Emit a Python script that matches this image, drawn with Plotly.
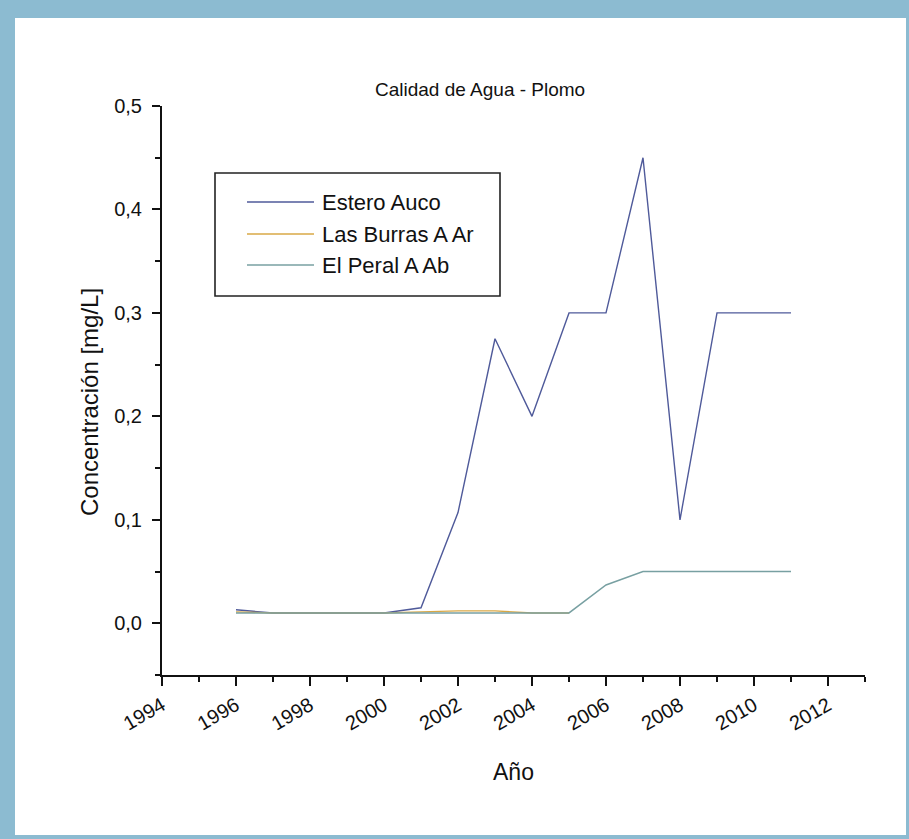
import plotly.graph_objects as go

# ---- data ----
years_auco = [1996, 1997, 1998, 1999, 2000, 2001, 2002, 2003, 2004, 2005, 2006, 2007, 2008, 2009, 2010, 2011]
estero_auco = [0.013, 0.010, 0.010, 0.010, 0.010, 0.015, 0.107, 0.275, 0.200, 0.300, 0.300, 0.450, 0.100, 0.300, 0.300, 0.300]

years_burras = [1996, 1997, 1998, 1999, 2000, 2001, 2002, 2003, 2004, 2005]
las_burras = [0.011, 0.010, 0.010, 0.010, 0.010, 0.011, 0.012, 0.012, 0.010, 0.010]

years_peral = [1996, 1997, 1998, 1999, 2000, 2001, 2002, 2003, 2004, 2005, 2006, 2007, 2008, 2009, 2010, 2011]
el_peral = [0.010, 0.010, 0.010, 0.010, 0.010, 0.010, 0.010, 0.010, 0.010, 0.010, 0.037, 0.050, 0.050, 0.050, 0.050, 0.050]

series_names = ["Estero Auco", "Las Burras A Ar", "El Peral A Ab"]
series_colors = ["#4f5a9a", "#d9a846", "#78a0a2"]

x_tick_vals = list(range(1994, 2013, 2))
x_tick_text = [str(v) for v in x_tick_vals]

title_text = "Calidad de Agua - Plomo"
x_title = "Año"
y_title = "Concentración [mg/L]"

# ---- layout geometry (pixels) ----
W, H = 909, 839
L, R, T, B = 162, 44, 106, 164
PW = W - L - R
PH = H - T - B


def px_x(p):
    return (p - L) / PW


def px_y(p):
    return (H - B - p) / PH


FONT = "Liberation Sans, Arial, Helvetica, sans-serif"

fig = go.Figure()
for xs, ys, name, color in zip(
    [years_auco, years_burras, years_peral],
    [estero_auco, las_burras, el_peral],
    series_names,
    series_colors,
):
    fig.add_trace(
        go.Scatter(
            x=xs, y=ys, mode="lines", name=name,
            line=dict(color=color, width=1.4),
            showlegend=False,
        )
    )

shapes = [
    # white page inside the blue frame
    dict(type="rect", xref="paper", yref="paper",
         x0=px_x(15), x1=px_x(906), y0=px_y(835), y1=px_y(18),
         fillcolor="white", line=dict(width=0), layer="below"),
    # legend box
    dict(type="rect", xref="paper", yref="paper",
         x0=px_x(215), x1=px_x(500), y0=px_y(296), y1=px_y(173),
         fillcolor="white", line=dict(color="#222222", width=1.6), layer="above"),
]
annotations = [
    dict(text=title_text, x=px_x(480), y=px_y(89), xref="paper", yref="paper",
         showarrow=False, xanchor="center", yanchor="middle",
         font=dict(family=FONT, size=19, color="#111111")),
    dict(text=x_title, x=0.5, y=px_y(772), xref="paper", yref="paper",
         showarrow=False, xanchor="center", yanchor="middle",
         font=dict(family=FONT, size=23, color="#111111")),
    dict(text=y_title, x=px_x(89), y=px_y(402), xref="paper", yref="paper",
         showarrow=False, xanchor="center", yanchor="middle", textangle=-90,
         font=dict(family=FONT, size=24, color="#111111")),
]

legend_rows = [202, 234, 265]
for name, color, row in zip(series_names, series_colors, legend_rows):
    shapes.append(dict(type="line", xref="paper", yref="paper",
                       x0=px_x(247), x1=px_x(314), y0=px_y(row), y1=px_y(row),
                       line=dict(color=color, width=1.6), layer="above"))
    annotations.append(dict(text=name, x=px_x(320), y=px_y(row), xref="paper", yref="paper",
                            showarrow=False, xanchor="left", yanchor="middle",
                            font=dict(family=FONT, size=22, color="#111111")))

fig.update_layout(
    width=W, height=H,
    margin=dict(l=L, r=R, t=T, b=B, pad=0),
    paper_bgcolor="#8cbbd1",
    plot_bgcolor="white",
    separators=", ",
    showlegend=False,
    shapes=shapes,
    annotations=annotations,
    font=dict(family=FONT, color="#111111"),
)

fig.update_xaxes(
    range=[1994, 2013],
    tickmode="array", tickvals=x_tick_vals, ticktext=x_tick_text,
    tickangle=-30,
    ticks="outside", ticklen=9, tickwidth=2, tickcolor="#111111",
    minor=dict(ticks="outside", ticklen=5, tickwidth=2, tickcolor="#111111", dtick=1, showgrid=False),
    showline=True, linewidth=2, linecolor="#111111",
    showgrid=False, zeroline=False,
    tickfont=dict(family=FONT, size=20, color="#111111"),
    fixedrange=True,
)
fig.update_yaxes(
    range=[-0.05, 0.5],
    tick0=0, dtick=0.1, tickformat=".1f",
    ticks="outside", ticklen=8, tickwidth=2, tickcolor="#111111",
    minor=dict(ticks="outside", ticklen=5, tickwidth=2, tickcolor="#111111", dtick=0.05, showgrid=False),
    showline=True, linewidth=2, linecolor="#111111",
    showgrid=False, zeroline=False,
    ticklabelstandoff=6,
    tickfont=dict(family=FONT, size=20, color="#111111"),
    fixedrange=True,
)

fig.write_html(
    "out.html",
    config={"displayModeBar": False},
    post_script="document.body.style.margin='0px';document.body.style.overflow='hidden';",
)
